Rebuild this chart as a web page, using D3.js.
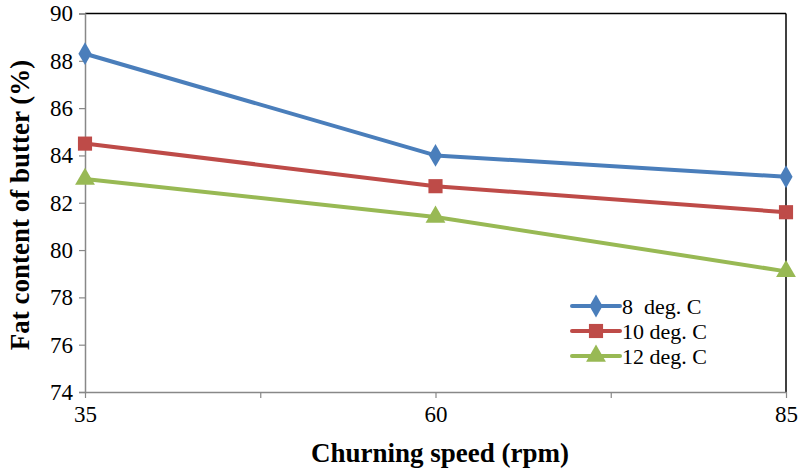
<!DOCTYPE html>
<html><head><meta charset="utf-8">
<script src="https://cdn.jsdelivr.net/npm/d3@7"></script>
<style>body{margin:0;background:#fff}svg{display:block}text{font-family:"Liberation Serif","Times New Roman",serif}</style>
</head><body>
<svg id="c" width="799" height="468"></svg>
<script>
const speeds = [35, 60, 85];
const seriesNames = ["8  deg. C", "10 deg. C", "12 deg. C"];
const fat8 = [88.3, 84.0, 83.1];
const fat10 = [84.5, 82.7, 81.6];
const fat12 = [83.0, 81.4, 79.1];
const yTicks = [74, 76, 78, 80, 82, 84, 86, 88, 90];
const xTicks = [35, 47.5, 60, 72.5, 85];
const xLabels = [35, 60, 85];

const colors = ["#4A7EBB", "#BE4B48", "#98B954"];
const symbols = [d3.symbolDiamond, d3.symbolSquare, d3.symbolTriangle];
const symSizes = [150, 200, 170];
const series = [fat8, fat10, fat12].map((v, i) => ({name: seriesNames[i], values: v, color: colors[i], sym: symbols[i], size: symSizes[i]}));

const svg = d3.select("#c");
const L = 85, R = 786, T = 13.5, B = 392;
const x = d3.scaleLinear().domain([35, 85]).range([L, R]);
const y = d3.scaleLinear().domain([74, 90]).range([B, T]);
const font = '"Liberation Serif","Times New Roman",serif';

// frame top/right
svg.append("line").attr("x1", L).attr("x2", R).attr("y1", T).attr("y2", T).attr("stroke", "#000").attr("stroke-width", 1.5);
svg.append("line").attr("x1", R).attr("x2", R).attr("y1", T).attr("y2", B).attr("stroke", "#000").attr("stroke-width", 1.5);

// y axis
const yAxis = svg.append("g").attr("transform", `translate(${L},0)`)
  .call(d3.axisLeft(y).tickValues(yTicks).tickSize(6).tickPadding(6).tickFormat(d3.format("d")));
yAxis.attr("font-family", null).attr("font-size", null);
yAxis.select(".domain").attr("stroke", "#888").attr("stroke-width", 1.5);
yAxis.selectAll(".tick line").attr("stroke", "#888").attr("stroke-width", 1.2);
yAxis.selectAll("text").style("font-family", font).style("font-size", "23px").attr("fill", "#000");

// x axis
const xAxis = svg.append("g").attr("transform", `translate(0,${B})`)
  .call(d3.axisBottom(x).tickValues(xTicks).tickSize(6).tickSizeOuter(0).tickPadding(8)
    .tickFormat(d => xLabels.includes(d) ? d3.format("d")(d) : ""));
xAxis.attr("font-family", null).attr("font-size", null);
xAxis.select(".domain").attr("stroke", "#888").attr("stroke-width", 1.5);
xAxis.selectAll(".tick line").attr("stroke", "#888").attr("stroke-width", 1.2);
xAxis.selectAll("text").style("font-family", font).style("font-size", "23px").attr("fill", "#000");

// lines
const line = d3.line().x((d, i) => x(speeds[i])).y(d => y(d));
series.forEach(s => {
  svg.append("path").datum(s.values).attr("d", line).attr("fill", "none")
    .attr("stroke", s.color).attr("stroke-width", 4).attr("stroke-linejoin", "round");
  svg.selectAll(null).data(s.values).enter().append("path")
    .attr("d", d3.symbol().type(s.sym).size(s.size))
    .attr("transform", (d, i) => `translate(${x(speeds[i])},${y(d)})`)
    .attr("fill", s.color);
});

// axis titles
svg.append("text").attr("x", 440).attr("y", 462).attr("text-anchor", "middle")
  .style("font-family", font).style("font-size", "27px").attr("font-weight", "bold").text("Churning speed (rpm)");
svg.append("text").attr("transform", "translate(29,205) rotate(-90)").attr("text-anchor", "middle")
  .style("font-family", font).style("font-size", "27px").attr("font-weight", "bold").text("Fat content of butter (%)");

// legend
const lg = svg.append("g");
series.forEach((s, i) => {
  const yy = 306 + i * 25;
  lg.append("line").attr("x1", 572).attr("x2", 620).attr("y1", yy).attr("y2", yy)
    .attr("stroke", s.color).attr("stroke-width", 4).attr("stroke-linecap", "round");
  lg.append("path").attr("d", d3.symbol().type(s.sym).size(s.size))
    .attr("transform", `translate(596,${yy})`).attr("fill", s.color);
  lg.append("text").attr("x", 622).attr("y", yy + 8).style("font-family", font).style("font-size", "22px")
    .style("white-space", "pre").text(s.name);
});
</script>
</body></html>
